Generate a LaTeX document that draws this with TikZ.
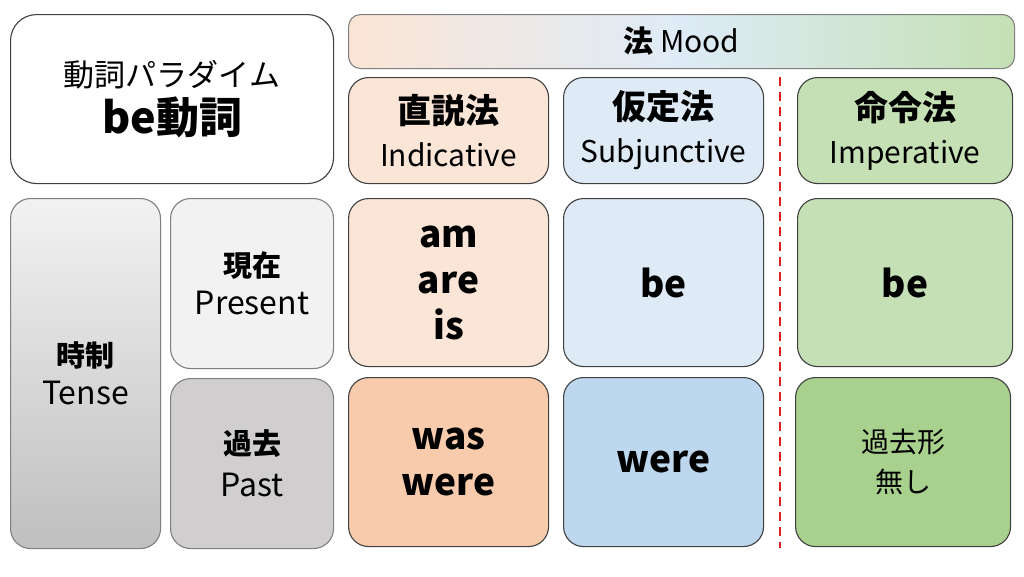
\documentclass[tikz,border=0pt]{standalone}
\usepackage{fontspec}
\setmainfont{Noto Sans CJK JP}
\definecolor{peachA}{HTML}{FBE5D6}
\definecolor{peachB}{HTML}{F8CBAD}
\definecolor{blueA}{HTML}{DEEBF7}
\definecolor{blueB}{HTML}{BDD7EE}
\definecolor{greenA}{HTML}{C5E0B4}
\definecolor{greenB}{HTML}{A9D18E}
\definecolor{greyA}{HTML}{F2F2F2}
\definecolor{greyB}{HTML}{D0CECE}
\definecolor{greyC}{HTML}{BFBFBF}
\definecolor{edge}{HTML}{404040}
\definecolor{edgegrey}{HTML}{808080}
\definecolor{dashred}{HTML}{E02020}
\tikzset{
  cell/.style={draw=edge, line width=1.1pt, rounded corners=20pt, inner sep=0pt, align=center, anchor=north west},
  greycell/.style={cell, draw=edgegrey},
  big/.style={font=\fontsize{37}{46}\selectfont\bfseries},
  head/.style={font=\fontsize{30}{43}\selectfont},
}
\begin{document}
\begin{tikzpicture}[x=1pt,y=-1pt]
\useasboundingbox (0,0) rectangle (1024,576);
% title
\node[cell, fill=white, rounded corners=26pt, minimum width=323pt, minimum height=169pt, font=\fontsize{31}{47}\selectfont] (title) at (10,14)
  {動詞パラダイム\\{\fontsize{43}{47}\selectfont\bfseries be動詞}};
% mood bar
\node[cell, draw=edgegrey, rounded corners=12pt, left color=peachA, right color=greenA, middle color=blueA, minimum width=666pt, minimum height=54pt, font=\fontsize{30}{34}\selectfont] (mood) at (348,14)
  {{\bfseries 法} Mood};
% headers
\node[cell, head, fill=peachA, minimum width=200pt, minimum height=106pt] (ind) at (348,77)
  {{\fontsize{34}{43}\selectfont\bfseries 直説法}\\Indicative};
\node[cell, head, fill=blueA, minimum width=200pt, minimum height=106pt] (sub) at (563,77)
  {{\fontsize{34}{43}\selectfont\bfseries 仮定法}\\Subjunctive};
\node[cell, head, fill=greenA, minimum width=215pt, minimum height=106pt] (imp) at (797,77)
  {{\fontsize{34}{43}\selectfont\bfseries 命令法}\\Imperative};
% tense side
\node[greycell, top color=greyA, bottom color=greyC, minimum width=150pt, minimum height=350pt, font=\fontsize{32}{38}\selectfont] (tense) at (10,198)
  {{\fontsize{29}{38}\selectfont\bfseries 時制}\\Tense};
\node[greycell, fill=greyA, minimum width=163pt, minimum height=170pt, font=\fontsize{32}{38}\selectfont] (pres) at (170,198)
  {{\fontsize{29}{38}\selectfont\bfseries 現在}\\Present};
\node[greycell, fill=greyB, minimum width=163pt, minimum height=170pt, font=\fontsize{32}{42}\selectfont] (past) at (170,378)
  {{\fontsize{29}{42}\selectfont\bfseries 過去}\\Past};
% present row
\node[cell, fill=peachA, big, minimum width=200pt, minimum height=168pt] (indpres) at (348,198) {am\\are\\is};
\node[cell, fill=blueA, big, minimum width=200pt, minimum height=168pt] (subpres) at (563,198) {be};
\node[cell, fill=greenA, big, minimum width=215pt, minimum height=168pt] (imppres) at (797,198) {be};
% past row
\node[cell, fill=peachB, big, minimum width=200pt, minimum height=169pt] (indpast) at (348,377) {was\\were};
\node[cell, fill=blueB, big, minimum width=200pt, minimum height=169pt] (subpast) at (563,377) {were};
\node[cell, fill=greenB, minimum width=215pt, minimum height=169pt, font=\fontsize{28}{40}\selectfont] (imppast) at (795,377) {過去形\\無し};
% dashed separator
\coordinate (dtop) at (780,77);
\coordinate (dbot) at (780,548);
\draw[dashred, line width=2.5pt, dash pattern=on 9pt off 6pt] (dtop) -- (dbot);
\end{tikzpicture}
\end{document}
